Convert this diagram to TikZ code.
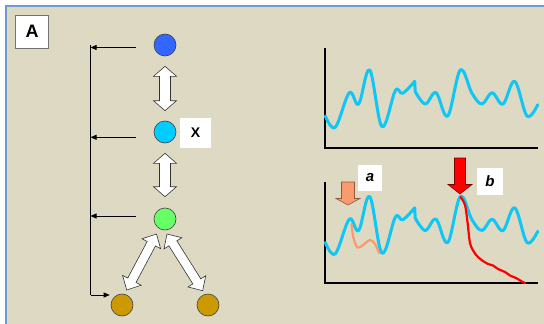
\documentclass[tikz,border=0pt]{standalone}
\usepackage{fontspec}
\setmainfont{Liberation Sans}
\usetikzlibrary{calc,arrows.meta}
\definecolor{bgtan}{HTML}{DDD9C3}
\definecolor{framecol}{HTML}{7199D4}
\definecolor{cblueC}{HTML}{3366FF}
\definecolor{ccyanC}{HTML}{00CCFF}
\definecolor{cgreenC}{HTML}{66FF66}
\definecolor{cgoldC}{HTML}{CC9900}
\definecolor{waveC}{HTML}{0FC6F5}
\definecolor{salmonC}{HTML}{F99B6E}
\definecolor{salmonD}{HTML}{8A5A3A}
\definecolor{redD}{HTML}{7A0000}
\tikzset{
  circ/.style={circle, minimum size=22pt, inner sep=0pt, draw=black!75, line width=0.6pt},
  blockarr/.style={draw=black!80, fill=white, line width=0.6pt, line join=miter},
  thinarr/.style={draw=black, line width=0.7pt, -{Triangle[length=6pt,width=5pt]}},
  axisline/.style={draw=black, line width=1.1pt},
  wavestyle/.style={draw=waveC, line width=3pt, line cap=round, line join=round},
  labelbox/.style={fill=white, inner sep=0pt, font=\bfseries},
}
% #1,#2: end points; #3 head length; #4 head half width; #5 shaft half width
\newcommand\blockdbl[5]{%
  \path let \p1=($(#2)-(#1)$), \n1={atan2(\y1,\x1)}, \n2={veclen(\x1,\y1)/2} in
    \pgfextra{\xdef\bdang{\n1}\xdef\bdlen{\n2}};
  \draw[blockarr, shift={($(#1)!0.5!(#2)$)}, rotate=\bdang]
    ({-\bdlen},0pt) -- ({-\bdlen+#3pt},#4pt) -- ({-\bdlen+#3pt},#5pt) -- ({\bdlen-#3pt},#5pt)
    -- ({\bdlen-#3pt},#4pt) -- ({\bdlen},0pt) -- ({\bdlen-#3pt},-#4pt) -- ({\bdlen-#3pt},-#5pt)
    -- ({-\bdlen+#3pt},-#5pt) -- ({-\bdlen+#3pt},-#4pt) -- cycle;}
\newcommand\mywave{%
  \draw[wavestyle] plot[smooth, tension=0.6] coordinates {(325.3,116) (335.3,127.3) (349.3,92.7) (358.7,104) (369.7,70) (382,126.7) (395.3,90.7) (402.7,93.3) (414.7,81.3)}
   -- plot[smooth, tension=0.6] coordinates {(415.2,91.5) (425.3,104) (436,92.7) (447.7,116) (460.3,70) (472,93.3) (482,104) (492,92.7) (503,104) (514.7,81.3) (527,116) (537.7,104.7)};}
\begin{document}
\begin{tikzpicture}[x=1pt,y=-1pt]
\useasboundingbox (0,0) rectangle (544,324);
\fill[white] (0,0) rectangle (544,324);
\fill[bgtan] (5,5) rectangle (544,324);
\draw[framecol, line width=2pt] (5.5,324) -- (5.5,5.5) -- (544,5.5);

% label A
\node[draw=black!55, line width=0.8pt, fill=white, minimum width=33pt, minimum height=33pt, inner sep=0pt, font=\bfseries\fontsize{18}{18}\selectfont] (lA) at (32,31.5) {A};

% circles
\node[circ, fill=cblueC] (cblue) at (165,45) {};
\node[circ, fill=ccyanC] (ccyan) at (165,132) {};
\node[circ, fill=cgreenC] (cgreen) at (165,219) {};
\node[circ, fill=cgoldC] (cgoldL) at (122,305) {};
\node[circ, fill=cgoldC] (cgoldR) at (208,305) {};

% X label
\node[labelbox, minimum width=31pt, minimum height=30pt, font=\bfseries\fontsize{14}{14}\selectfont] (lX) at (195.5,133) {X};

% block double arrows
\coordinate (v1a) at ($(cblue.south)+(0,10)$);
\coordinate (v1b) at ($(ccyan.north)+(0,-10)$);
\coordinate (v2a) at ($(ccyan.south)+(0,10)$);
\coordinate (v2b) at ($(cgreen.north)+(0,-11)$);
\coordinate (d1a) at ($(cgreen)+(-8.5,15)$);
\coordinate (d1b) at ($(cgoldL)+(4.7,-15)$);
\coordinate (d2a) at ($(cgreen)+(2,15)$);
\coordinate (d2b) at ($(cgoldR)+(-5.3,-14.3)$);
\blockdbl{v1a}{v1b}{10}{11.5}{5.5}
\blockdbl{v2a}{v2b}{10}{11.5}{5.5}
\blockdbl{d1a}{d1b}{11}{10.5}{4.7}
\blockdbl{d2a}{d2b}{11}{10.5}{4.7}

% feedback bus
\coordinate (bustop) at (90.5,45);
\coordinate (busbot) at (90.5,295);
\coordinate (h1) at (136,47.5);
\coordinate (h2) at (136,137.3);
\coordinate (h3) at (136,216);
\draw[black, line width=0.8pt] (bustop) -- (busbot);
\draw[thinarr] (h1) -- (h1 -| bustop);
\draw[thinarr] (h2) -- (h2 -| bustop);
\draw[thinarr] (h3) -- (h3 -| bustop);
\draw[thinarr] (busbot) -- ($(cgoldL.west)+(-1,-10)$);

% top chart
\coordinate (ax1o) at (325,148);
\draw[axisline] (325,48) -- (ax1o) -- (538,148);
\mywave

% bottom chart
\coordinate (ax2o) at (325,283);
\draw[axisline] (325,182) -- (ax2o) -- (538,283);
\begin{scope}[shift={(0,126.5)}]
\mywave
\end{scope}
\draw[salmonC, line width=2.2pt, line cap=round] plot[smooth, tension=0.6] coordinates {(351.5,224) (353.5,238) (357.5,247.5) (363,245) (370,240) (375,244) (379,253)};
\draw[red, line width=2.2pt, line cap=round, line join=round] plot[smooth, tension=0.5] coordinates {(460.5,197) (465,205) (467.5,222) (470,243) (474,252) (478,257) (483,261) (488,264) (493,265.5) (498,269) (505,272) (510,275.5) (516,278) (521,281) (525,283)};

% down block arrows
\draw[fill=salmonC, draw=salmonD, line width=0.6pt] (341.5,182) -- (354.5,182) -- (354.5,198.5) -- (360,198.5) -- (348,205) -- (336,198.5) -- (341.5,198.5) -- cycle;
\draw[fill=red, draw=redD, line width=0.6pt] (454.5,158) -- (465.5,158) -- (465.5,184.5) -- (472,184.5) -- (460,194) -- (448,184.5) -- (454.5,184.5) -- cycle;

% a, b labels
\node[labelbox, minimum width=24pt, minimum height=26pt, font=\bfseries\itshape\fontsize{15}{15}\selectfont] (la) at (370,178) {a};
\node[labelbox, minimum width=26pt, minimum height=27pt, font=\bfseries\itshape\fontsize{15}{15}\selectfont] (lb) at (490,181.5) {b};
\end{tikzpicture}
\end{document}
